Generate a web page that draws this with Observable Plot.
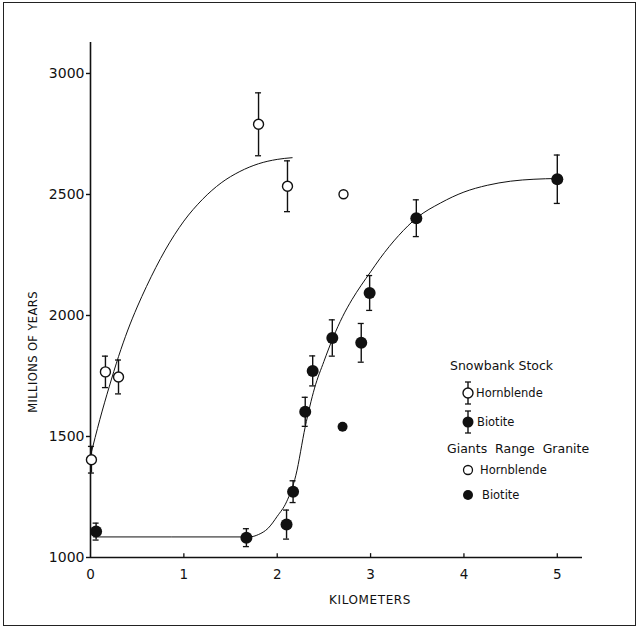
<!DOCTYPE html>
<html>
<head>
<meta charset="utf-8">
<script src="https://cdn.jsdelivr.net/npm/d3@7"></script>
<script src="https://cdn.jsdelivr.net/npm/@observablehq/plot@0.6"></script>
<style>
  html, body { margin: 0; padding: 0; background: #fff; }
  #wrap { position: relative; width: 640px; height: 629px; overflow: hidden; }
  #frame { position: absolute; left: 3px; top: 2px; width: 631px; height: 622px; border: 1.6px solid #222; pointer-events: none; }
</style>
</head>
<body>
<div id="wrap"><div id="frame"></div></div>
<script>
// ---- data ----
const xTicks = [0, 1, 2, 3, 4, 5];
const yTicks = [1000, 1500, 2000, 2500, 3000];

// Snowbank Stock – hornblende (open circles with error bars)
const snowHblKm  = [0.01, 0.16, 0.30, 1.80, 2.11];
const snowHblAge = [1404, 1767, 1746, 2790, 2534];
const snowHblErr = [55, 65, 70, 130, 105];

// Snowbank Stock – biotite (filled circles with error bars)
const snowBioKm  = [0.06, 1.67, 2.10, 2.17, 2.30, 2.38, 2.59, 2.90, 2.99, 3.49, 5.00];
const snowBioAge = [1107, 1082, 1136, 1272, 1602, 1771, 1907, 1887, 2093, 2402, 2563];
const snowBioErr = [35, 37, 60, 45, 60, 62, 75, 80, 72, 76, 100];

// Giants Range Granite
const giantHblKm = [2.71], giantHblAge = [2501];
const giantBioKm = [2.70], giantBioAge = [1540];

// Hand-drawn curves
const hblCurveKm  = [0, 0.1, 0.2, 0.3, 0.4, 0.5, 0.6, 0.8, 1.0, 1.2, 1.4, 1.6, 1.8, 2.0, 2.16];
const hblCurveAge = [1420, 1570, 1705, 1830, 1940, 2035, 2120, 2270, 2390, 2480, 2548, 2595, 2627, 2645, 2652];
const bioCurveKm  = [0.03, 1.7, 1.8, 1.9, 2.0, 2.1, 2.2, 2.3, 2.4, 2.5, 2.6, 2.7, 2.8, 2.9, 3.0, 3.1, 3.3, 3.5, 3.75, 4.0, 4.25, 4.5, 4.75, 5.0];
const bioCurveAge = [1085, 1085, 1095, 1120, 1170, 1230, 1340, 1540, 1700, 1810, 1910, 1995, 2065, 2125, 2180, 2235, 2330, 2405, 2465, 2510, 2538, 2555, 2563, 2566];

// ---- tables built from the arrays ----
const snowHbl = snowHblKm.map((k, i) => ({k, v: snowHblAge[i], e: snowHblErr[i]}));
const snowBio = snowBioKm.map((k, i) => ({k, v: snowBioAge[i], e: snowBioErr[i]}));
const giantHbl = giantHblKm.map((k, i) => ({k, v: giantHblAge[i]}));
const giantBio = giantBioKm.map((k, i) => ({k, v: giantBioAge[i]}));
const hblCurve = hblCurveKm.map((k, i) => ({k, v: hblCurveAge[i]}));
const bioCurve = bioCurveKm.map((k, i) => ({k, v: bioCurveAge[i]}));
const errs = snowHbl.concat(snowBio);

const XMAX = 5.27, YMAX = 3128;
const font = "DejaVu Sans, Liberation Sans, sans-serif";

const chart = Plot.plot({
  width: 640,
  height: 629,
  marginLeft: 90,
  marginRight: 58,
  marginTop: 42,
  marginBottom: 72,
  x: {domain: [0, XMAX]},
  y: {domain: [1000, YMAX]},
  style: {fontFamily: font, fontSize: "13px", background: "transparent", color: "#111"},
  marks: [
    // axes
    Plot.axisY({ticks: yTicks, tickSize: 4, tickPadding: 2, tickFormat: d => String(d), label: null, fontSize: 14, strokeWidth: 1.4}),
    Plot.axisX({ticks: xTicks, tickSize: 0, tickPadding: 12, tickFormat: d => String(d), label: null, fontSize: 13.5}),
    Plot.ruleX([0], {y1: 1000, y2: YMAX, stroke: "#111", strokeWidth: 1.6}),
    Plot.ruleY([1000], {x1: 0, x2: XMAX, stroke: "#111", strokeWidth: 1.6}),
    Plot.ruleX(xTicks.filter(d => d > 0), {y1: 1000, y2: 1016, stroke: "#111", strokeWidth: 1.3}),
    // curves
    Plot.line(hblCurve, {x: "k", y: "v", curve: "monotone-x", stroke: "#111", strokeWidth: 1}),
    Plot.line(bioCurve, {x: "k", y: "v", curve: "monotone-x", stroke: "#111", strokeWidth: 1}),
    // error bars
    Plot.ruleX(errs, {x: "k", y1: d => d.v - d.e, y2: d => d.v + d.e, stroke: "#111", strokeWidth: 1.4}),
    Plot.ruleY(errs, {y: d => d.v + d.e, x1: "k", x2: "k", insetLeft: -3, insetRight: -3, stroke: "#111", strokeWidth: 1.3}),
    Plot.ruleY(errs, {y: d => d.v - d.e, x1: "k", x2: "k", insetLeft: -3, insetRight: -3, stroke: "#111", strokeWidth: 1.3}),
    // points
    Plot.dot(snowHbl, {x: "k", y: "v", r: 5, fill: "white", stroke: "#111", strokeWidth: 1.4}),
    Plot.dot(giantHbl, {x: "k", y: "v", r: 4.5, fill: "white", stroke: "#111", strokeWidth: 1.4}),
    Plot.dot(snowBio, {x: "k", y: "v", r: 6, fill: "#111", stroke: "none"}),
    Plot.dot(giantBio, {x: "k", y: "v", r: 5, fill: "#111", stroke: "none"})
  ]
});

// ---- axis titles and legend (drawn into the same svg) ----
const svg = d3.select(chart);
const sx = chart.scale("x");
const ann = svg.append("g").attr("font-family", font).attr("fill", "#111");
ann.append("text").attr("x", sx.apply(3)).attr("y", 600).attr("dy", "0.35em")
  .attr("text-anchor", "middle").attr("font-size", 12).attr("letter-spacing", 0.6).text("KILOMETERS");
ann.append("text").attr("transform", `translate(33,${352}) rotate(-90)`).attr("dy", "0.35em")
  .attr("text-anchor", "middle").attr("font-size", 11.5).attr("letter-spacing", 0.4).text("MILLIONS OF YEARS");

const lg = svg.append("g").attr("font-family", font).attr("fill", "#111").attr("text-anchor", "start");
function errBar(g, cx, cy) {
  g.append("line").attr("x1", cx).attr("x2", cx).attr("y1", cy - 11).attr("y2", cy + 11).attr("stroke", "#111").attr("stroke-width", 1.4);
  g.append("line").attr("x1", cx - 3).attr("x2", cx + 3).attr("y1", cy - 11).attr("y2", cy - 11).attr("stroke", "#111").attr("stroke-width", 1.3);
  g.append("line").attr("x1", cx - 3).attr("x2", cx + 3).attr("y1", cy + 11).attr("y2", cy + 11).attr("stroke", "#111").attr("stroke-width", 1.3);
}
function label(g, x, y, t, size) {
  g.append("text").attr("x", x).attr("y", y).attr("dy", "0.35em").attr("text-anchor", "start").attr("font-size", size).text(t);
}
label(lg, 450, 366, "Snowbank Stock", 12.5);
errBar(lg, 468, 393);
lg.append("circle").attr("cx", 468).attr("cy", 393).attr("r", 5).attr("fill", "white").attr("stroke", "#111").attr("stroke-width", 1.4);
label(lg, 476, 393, "Hornblende", 11.5);
errBar(lg, 468, 422);
lg.append("circle").attr("cx", 468).attr("cy", 422).attr("r", 5.5).attr("fill", "#111");
label(lg, 477, 422, "Biotite", 11.5);
label(lg, 447, 449, "Giants  Range  Granite", 12.5);
lg.append("circle").attr("cx", 468).attr("cy", 470).attr("r", 4.5).attr("fill", "white").attr("stroke", "#111").attr("stroke-width", 1.3);
label(lg, 480, 470, "Hornblende", 11.5);
lg.append("circle").attr("cx", 468).attr("cy", 495).attr("r", 5).attr("fill", "#111");
label(lg, 482, 495, "Biotite", 11.5);

document.getElementById("wrap").prepend(chart);
</script>
</body>
</html>
